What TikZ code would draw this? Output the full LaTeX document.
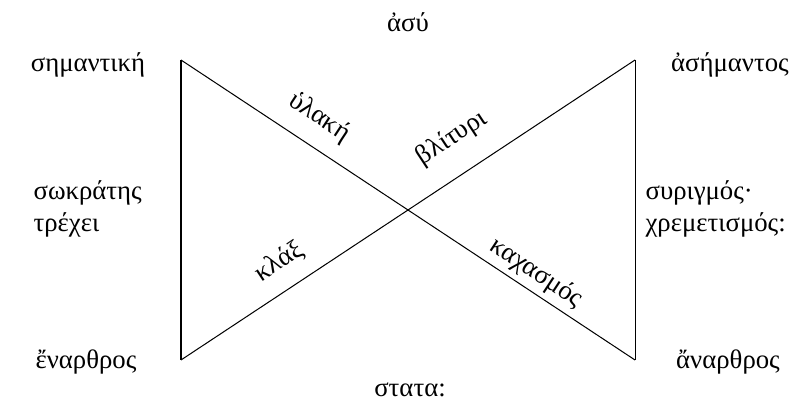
\documentclass[tikz,border=0pt]{standalone}
\usepackage{fontspec}
\setmainfont{Liberation Serif}
\usetikzlibrary{positioning}

\begin{document}
\begin{tikzpicture}[
  x=0.0138cm, y=-0.0138cm,
  word/.style={font=\fontsize{10.5}{12.6}\selectfont, inner sep=2pt},
  tilted/.style={word, sloped, inner sep=0pt}
]
\useasboundingbox (0,0) rectangle (798,410);

% Corners
\coordinate (tl) at (181,60);
\coordinate (tr) at (635,60);
\coordinate (bl) at (181,360);
\coordinate (br) at (635,360);

% Nodes
\node[word] (top) at (408,22) {ἀσύ};
\node[word] (bottom) at (410,390) {στατα:};
\node[word] (sem) at (88,65) {σημαντική};
\node[word] (asem) at (730,65) {ἀσήμαντος};
\node[word] (enar) at (86,362) {ἔναρθρος};
\node[word] (anar) at (728,362) {ἄναρθρος};
\node[word, align=left, anchor=west] (left) at (28,209) {σωκράτης\\τρέχει};
\node[word, align=left, anchor=west] (right) at (640,209) {συριγμός·\\χρεμετισμός:};

% Lines
\draw (tl) -- (bl);
\draw (tr) -- (br);
\draw (tl) -- node[tilted, pos=0.27, above=6pt] {ὑλακή}
               node[tilted, pos=0.76, above=2pt] {καχασμός} (br);
\draw (bl) -- node[tilted, pos=0.25, above=6pt] {κλάξ}
               node[tilted, pos=0.64, above=9pt] {βλίτυρι} (tr);

\end{tikzpicture}
\end{document}
